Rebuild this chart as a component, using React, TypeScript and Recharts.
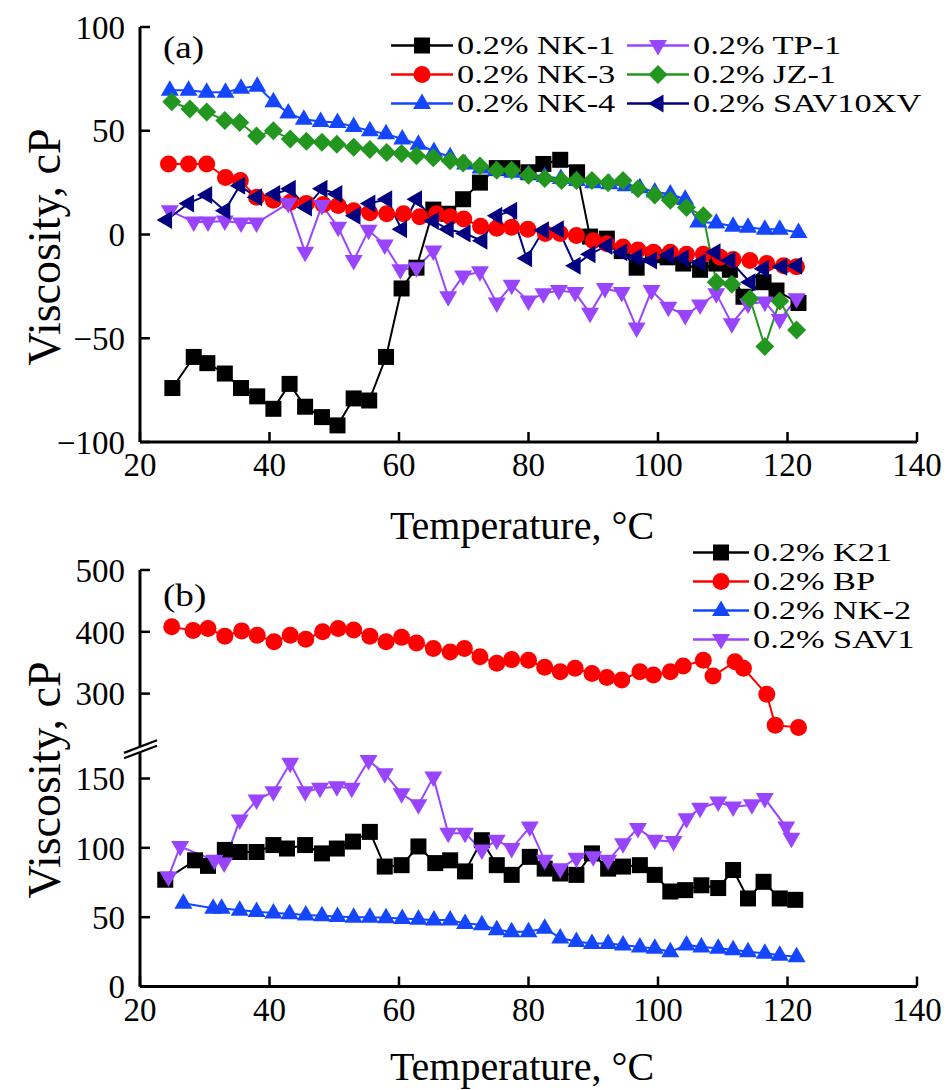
import React from "react";
import { LineChart, Line, XAxis, YAxis, Legend, Label } from "recharts";

const SERIF = '"Liberation Serif", "Times New Roman", serif';

const BLACK = "#000000";
const RED = "#ff0000";
const BLUE = "#1446ff";
const PURPLE = "#9945ff";
const GREEN = "#23961f";
const NAVY = "#000080";

const X_TICKS = [20, 40, 60, 80, 100, 120, 140];
const A_Y_TICKS = [-100, -50, 0, 50, 100];
const B_TOP_TICKS = [300, 400, 500];
const B_LOW_TICKS = [0, 50, 100, 150];

// panel (a)
const NK1_T = [25, 28.3, 30.4, 33.1, 35.6, 38.1, 40.6, 43.1, 45.5, 48.1, 50.5, 53, 55.4, 58, 60.4, 62.7, 65.3, 67.6, 69.9, 72.5, 75.1, 77.5, 80, 82.3, 84.9, 87.5, 89.5, 92.1, 94.4, 96.7, 99.2, 101.5, 103.9, 106.5, 109, 111.1, 113.2, 116.3, 118.3, 121.7];
const NK1_V = [-74, -59, -62, -67, -74, -78, -84, -72, -83, -88, -92, -79, -80, -59, -26, -16, 12, 10, 17, 25, 32, 32, 30, 34, 36, 30, -1, -2, -8, -16, -10, -11, -14, -17, -14, -17, -30, -23, -27, -33];

const NK3_T = [24.4, 27.5, 30.3, 33.2, 35.5, 38, 40.6, 43.2, 45.7, 48.3, 50.6, 53, 55.5, 58.1, 60.7, 63.2, 65.8, 67.9, 70, 72.6, 75.1, 77.4, 79.9, 82.6, 84.9, 87.4, 90, 92.1, 94.6, 96.9, 99.3, 101.9, 104.4, 107, 109.6, 111.6, 114.2, 116.8, 119.4, 121.4];
const NK3_V = [34, 34, 34, 27.5, 26, 18, 16.5, 15.5, 15, 14.5, 14, 11.5, 10.5, 10, 10, 8.5, 10, 8.5, 7.5, 4, 3, 3.5, 2.5, 0.5, 0.5, -0.5, -3, -4.5, -6, -7.5, -8.5, -8.5, -9.5, -9.5, -11, -12, -12.5, -14, -15, -15.5];

const NK4_T = [24.6, 27.5, 30.3, 33.2, 35.6, 38.1, 40.6, 42.9, 45.3, 47.9, 50.5, 53, 55.5, 58, 60.5, 63, 65.4, 67.9, 70.2, 72.6, 75, 77.5, 80, 82.5, 85, 87.5, 90, 92.5, 95, 97.2, 99.5, 101.9, 104.2, 106.2, 109, 111.6, 113.9, 116.5, 118.8, 121.7];
const NK4_V = [69.5, 69.5, 68.5, 68.5, 70.5, 71.5, 64, 58.5, 55.5, 54.5, 54, 52, 50, 48.5, 46, 43.5, 40, 37.5, 34, 32, 31, 30, 29, 28, 27, 26, 25, 24.5, 23.5, 22.5, 20.5, 19.5, 17, 6, 5.5, 4, 3.5, 2.5, 2.5, 1];

const TP1_T = [24.6, 28.3, 30.5, 33.1, 35.6, 38, 42.9, 45.5, 48.1, 50.6, 53, 55.3, 57.8, 60.2, 62.7, 65.3, 67.6, 69.9, 72.5, 75.1, 77.4, 80, 82.3, 84.7, 87.2, 89.5, 91.8, 94.4, 96.7, 99, 101.6, 104.2, 106.5, 109, 111.4, 113.9, 116.5, 118.8, 121.4];
const TP1_V = [11.5, 6, 6, 6.5, 5.5, 5.5, 15, -8.5, 14, 3.5, -12.5, 2, -5, -17, -16, -8, -30, -20, -18, -33, -24.5, -32, -28.5, -27, -28, -38, -26, -28, -45, -27, -35, -39, -34, -28.5, -43, -33.5, -32.5, -41, -31];

const JZ1_T = [24.9, 27.7, 30.3, 33.1, 35.4, 38, 40.6, 43.2, 45.7, 48.1, 50.4, 53, 55.5, 58.1, 60.4, 62.7, 65.3, 67.9, 69.9, 72.5, 75.1, 77.4, 80, 82.5, 85.1, 87.4, 89.8, 92.3, 94.6, 96.9, 99.5, 101.9, 104.4, 107, 109, 111.4, 114.2, 116.5, 118.8, 121.4];
const JZ1_V = [64, 60.5, 59, 55, 54, 47.5, 50, 46, 45, 44.5, 43.5, 42, 41, 39.5, 39, 38, 37, 35.5, 34.5, 33, 31, 31, 28.5, 27, 26, 26, 26, 25, 26, 22, 19, 16.5, 13, 9, -23, -24, -31, -54, -32, -46];

const SAV10_T = [24.1, 27.5, 30.3, 33.1, 35.4, 38, 40.8, 43.2, 45.7, 48.1, 50.4, 53.2, 55.5, 58.1, 60.4, 62.7, 65.3, 67.6, 70.2, 72.8, 75.1, 77.4, 79.7, 82.3, 84.6, 87.2, 89.5, 92.1, 94.4, 96.7, 99, 101.6, 103.9, 106.5, 108.8, 111.1, 114.2, 116.3, 119.1, 121.4];
const SAV10_V = [7, 15, 19, 11.5, 23.5, 18, 19.5, 22, 13, 22, 19.5, 9, 15, 17, 2.5, 17, 6.5, 2.5, 0.5, -3, 9, 11.5, -11.5, 2, 2.5, -15, -9.5, -5.5, -8.5, -11, -12.5, -10, -11.5, -13.5, -8.5, -12.5, -23, -16.5, -15.5, -15];

// panel (b)
const K21_T = [23.9, 28.5, 30.5, 33.1, 35.4, 38, 40.6, 42.7, 45.5, 48.1, 50.4, 52.9, 55.5, 57.8, 60.4, 63, 65.6, 67.9, 70.2, 72.8, 75.1, 77.4, 80.2, 82.5, 84.9, 87.4, 89.8, 92.3, 94.6, 97.2, 99.5, 101.9, 104.2, 106.7, 109.3, 111.6, 113.9, 116.3, 118.8, 121.2];
const K21_V = [77, 91, 87, 98.5, 97, 97, 102, 99.5, 102, 96, 99.5, 104.5, 111.5, 86.5, 87.5, 101, 89, 91, 83, 105.5, 87.5, 80.5, 93.5, 85, 81.5, 80.5, 96, 85, 86.5, 87.5, 80.5, 68.5, 69.5, 73, 71, 84, 63.5, 75.5, 63.5, 62.5];

const BP_T = [24.9, 28.2, 30.5, 33.1, 35.7, 38.1, 40.7, 43.2, 45.6, 48.2, 50.6, 53, 55.5, 58, 60.4, 62.7, 65.3, 67.9, 70.1, 72.5, 75.1, 77.4, 80, 82.5, 84.9, 87.2, 89.8, 92.1, 94.4, 97.2, 99.3, 101.9, 103.9, 107, 108.5, 111.9, 113.2, 116.8, 118.1, 121.7];
const BP_V = [408, 402, 405.5, 393, 401.5, 394.5, 384, 394.5, 388, 400, 405.5, 403, 393, 384, 391, 382, 373, 367.5, 373, 359.5, 349, 355, 354, 342.5, 335.5, 341, 332.5, 326, 322, 335.5, 330, 335.5, 344.5, 354, 328.5, 351.5, 341, 299, 249, 245];

const NK2_T = [26.7, 31.3, 32.6, 35.4, 38, 40.6, 43.1, 45.6, 48.1, 50.5, 53, 55.5, 58, 60.5, 63, 65.4, 67.9, 70.2, 72.8, 75.1, 77.4, 80, 82.5, 84.9, 87.4, 89.8, 92.3, 94.6, 97.2, 99.5, 101.9, 104.4, 106.7, 109.3, 111.6, 113.9, 116.5, 118.8, 121.4];
const NK2_V = [60, 56.5, 56.5, 55, 54, 53, 52.5, 51.5, 51, 50.5, 50, 50, 49.5, 49, 48.5, 48, 48, 45.5, 44.5, 41, 39.5, 39.5, 42, 35, 32.5, 31, 31, 30, 28.5, 27.5, 25, 30, 28.5, 27.5, 26.5, 25, 24, 22.5, 21.5];

const SAV1_T = [24.4, 26.2, 31.5, 33, 35.4, 38, 40.6, 43.2, 45.5, 47.8, 50.4, 52.7, 55.3, 57.8, 60.4, 63, 65.3, 67.6, 70.2, 72.8, 75.1, 77.4, 80.2, 82.5, 84.9, 87.4, 90, 92.3, 94.6, 96.9, 99.5, 102.4, 104.4, 106.5, 109.3, 111.6, 114.5, 116.5, 119.8, 120.6];
const SAV1_V = [79, 101, 91, 89, 120, 134.5, 140.5, 161, 140.5, 143, 144, 143, 163, 153.5, 139, 131, 151, 110.5, 110.5, 98.5, 105.5, 99.5, 115, 91, 85, 92.5, 93.5, 91, 103, 114, 105.5, 104.5, 121, 128.5, 133, 129.5, 131, 135.5, 115, 107];

type Shape = "square" | "circle" | "up" | "down" | "diamond" | "left";
type Series = { name: string; color: string; shape: Shape; data: { t: number; v: number }[] };

const zip = (t: number[], v: number[]) => t.map((x, i) => ({ t: x, v: v[i] }));

const NK1: Series = { name: "0.2% NK-1", color: BLACK, shape: "square", data: zip(NK1_T, NK1_V) };
const NK3: Series = { name: "0.2% NK-3", color: RED, shape: "circle", data: zip(NK3_T, NK3_V) };
const NK4: Series = { name: "0.2% NK-4", color: BLUE, shape: "up", data: zip(NK4_T, NK4_V) };
const TP1: Series = { name: "0.2% TP-1", color: PURPLE, shape: "down", data: zip(TP1_T, TP1_V) };
const JZ1: Series = { name: "0.2% JZ-1", color: GREEN, shape: "diamond", data: zip(JZ1_T, JZ1_V) };
const SAV10: Series = { name: "0.2% SAV10XV", color: NAVY, shape: "left", data: zip(SAV10_T, SAV10_V) };

const K21: Series = { name: "0.2% K21", color: BLACK, shape: "square", data: zip(K21_T, K21_V) };
const BP: Series = { name: "0.2% BP", color: RED, shape: "circle", data: zip(BP_T, BP_V) };
const NK2: Series = { name: "0.2% NK-2", color: BLUE, shape: "up", data: zip(NK2_T, NK2_V) };
const SAV1: Series = { name: "0.2% SAV1", color: PURPLE, shape: "down", data: zip(SAV1_T, SAV1_V) };

const SERIES_A = [NK1, NK3, NK4, TP1, JZ1, SAV10];
const SERIES_B_LOW = [K21, NK2, SAV1];
const LEGEND_B = [K21, BP, NK2, SAV1];

function Marker({ shape, cx, cy, color }: { shape: Shape; cx?: number; cy?: number; color: string }) {
  if (cx == null || cy == null || isNaN(cx) || isNaN(cy)) return null;
  switch (shape) {
    case "square":
      return <rect x={cx - 8} y={cy - 8} width={16} height={16} fill={color} />;
    case "circle":
      return <circle cx={cx} cy={cy} r={8.5} fill={color} />;
    case "diamond":
      return <polygon points={`${cx},${cy - 9.5} ${cx + 9.5},${cy} ${cx},${cy + 9.5} ${cx - 9.5},${cy}`} fill={color} />;
    case "up":
      return <polygon points={`${cx},${cy - 10} ${cx + 9},${cy + 5.5} ${cx - 9},${cy + 5.5}`} fill={color} />;
    case "down":
      return <polygon points={`${cx},${cy + 10} ${cx + 9},${cy - 5.5} ${cx - 9},${cy - 5.5}`} fill={color} />;
    case "left":
      return <polygon points={`${cx - 10},${cy} ${cx + 5.5},${cy - 9} ${cx + 5.5},${cy + 9}`} fill={color} />;
  }
  return null;
}

const dotFor = (s: Series) => (p: any) => (
  <Marker key={`${s.name}-${p.index}`} shape={s.shape} cx={p.cx} cy={p.cy} color={s.color} />
);

// the reference's lettering is wider than plain Times
const STRETCH = "scaleX(1.16)";
const LEGEND_STRETCH = "scaleX(1.32)";
const ROW = 29;

function LegendItem({ s, lineLen }: { s: Series; lineLen: number }) {
  return (
    <div style={{ display: "flex", alignItems: "center", height: ROW }}>
      <svg width={lineLen} height={ROW} style={{ flex: "none" }}>
        <line x1={0} x2={lineLen} y1={ROW / 2} y2={ROW / 2} stroke={s.color} strokeWidth={2.5} />
        <Marker shape={s.shape} cx={lineLen / 2} cy={ROW / 2} color={s.color} />
      </svg>
      <span style={{
        display: "block", height: ROW, marginLeft: 4, fontSize: 26, fontFamily: SERIF, color: "#000",
        whiteSpace: "nowrap", lineHeight: `${ROW}px`, transform: LEGEND_STRETCH, transformOrigin: "0 50%",
      }}>
        {s.name}
      </span>
    </div>
  );
}

const legendA = () => (
  <div style={{ display: "grid", gridTemplateColumns: "236px auto", gridTemplateRows: `repeat(3, ${ROW}px)`, gridAutoFlow: "column" }}>
    {SERIES_A.map((s) => (
      <LegendItem key={s.name} s={s} lineLen={62} />
    ))}
  </div>
);

const legendB = () => (
  <div>
    {LEGEND_B.map((s) => (
      <LegendItem key={s.name} s={s} lineLen={56} />
    ))}
  </div>
);

const yTitle = (cy: number) => () => (
  <text x={44} y={cy} transform={`rotate(-90 44 ${cy})`} textAnchor="middle" dominantBaseline="central" fontSize={46} fontFamily={SERIF} fill="#000">
    Viscosity, cP
  </text>
);

const xTitle = (baseline: number) => () => (
  <text x={522} y={baseline} textAnchor="middle" fontSize={40} fontFamily={SERIF} fill="#000">
    Temperature, °C
  </text>
);

const fmt = (v: number) => (v < 0 ? `\u2212${Math.abs(v)}` : `${v}`);

const tickStyle = { fill: "#000", fontSize: 33, fontFamily: SERIF };
const axisLine = { stroke: "#000", strokeWidth: 3 };
const tickLine = { stroke: "#000", strokeWidth: 2.5 };

export default function App() {
  return (
    <div style={{ position: "absolute", left: 0, top: 0, width: 949, height: 1090, background: "#fff", overflow: "hidden" }}>
      {/* panel (a) */}
      <div style={{ position: "absolute", left: 0, top: 0 }}>
        <LineChart width={949} height={560} margin={{ top: 27, right: 32, left: 40, bottom: 18 }}>
          <XAxis type="number" dataKey="t" domain={[20, 140]} ticks={X_TICKS} interval={0} height={100}
            tick={tickStyle} tickSize={-10} tickMargin={21} axisLine={axisLine} tickLine={tickLine}>
            <Label content={xTitle(539)} />
          </XAxis>
          <YAxis type="number" domain={[-100, 100]} ticks={A_Y_TICKS} interval={0} width={100} tickFormatter={fmt}
            tick={tickStyle} tickSize={-10} tickMargin={25} axisLine={axisLine} tickLine={tickLine}>
            <Label content={yTitle(247)} />
          </YAxis>
          <Legend layout="horizontal" verticalAlign="middle" align="center" content={legendA}
            wrapperStyle={{ left: 391, top: 30.5, width: 555 }} />
          {SERIES_A.map((s) => (
            <Line key={s.name} data={s.data} dataKey="v" name={s.name} type="linear" stroke={s.color} strokeWidth={2}
              dot={dotFor(s)} activeDot={false} isAnimationActive={false} />
          ))}
        </LineChart>
      </div>

      {/* panel (b), lower part of broken axis */}
      <div style={{ position: "absolute", left: 0, top: 530 }}>
        <LineChart width={949} height={560} margin={{ top: 218, right: 32, left: 40, bottom: 3.5 }}>
          <XAxis type="number" dataKey="t" domain={[20, 140]} ticks={X_TICKS} interval={0} height={100}
            tick={tickStyle} tickSize={-10} tickMargin={21} axisLine={axisLine} tickLine={tickLine}>
            <Label content={xTitle(550)} />
          </XAxis>
          <YAxis type="number" domain={[0, 172]} ticks={B_LOW_TICKS} interval={0} width={100}
            tick={tickStyle} tickSize={-10} tickMargin={25} axisLine={axisLine} tickLine={tickLine}>
            <Label content={yTitle(250)} />
          </YAxis>
          {SERIES_B_LOW.map((s) => (
            <Line key={s.name} data={s.data} dataKey="v" name={s.name} type="linear" stroke={s.color} strokeWidth={2}
              dot={dotFor(s)} activeDot={false} isAnimationActive={false} />
          ))}
        </LineChart>
      </div>

      {/* panel (b), upper part of broken axis */}
      <div style={{ position: "absolute", left: 0, top: 530 }}>
        <LineChart width={949} height={220} margin={{ top: 40, right: 32, left: 40, bottom: 2 }}>
          <XAxis hide type="number" dataKey="t" domain={[20, 140]} />
          <YAxis type="number" domain={[212, 500]} ticks={B_TOP_TICKS} interval={0} width={100}
            tick={tickStyle} tickSize={-10} tickMargin={25} axisLine={axisLine} tickLine={tickLine} />
          <Legend layout="horizontal" verticalAlign="middle" align="center" content={legendB}
            wrapperStyle={{ left: 693, top: 7.5, width: 250 }} />
          <Line data={BP.data} dataKey="v" name={BP.name} type="linear" stroke={BP.color} strokeWidth={2}
            dot={dotFor(BP)} activeDot={false} isAnimationActive={false} />
        </LineChart>
      </div>

      {/* axis break marks */}
      <svg width={949} height={1090} style={{ position: "absolute", left: 0, top: 0, pointerEvents: "none" }}>
        <polygon points="124,752.9 157,740.3 157,745.7 124,758.3" fill="#fff" />
        <line x1={124} y1={752.9} x2={157} y2={740.3} stroke="#000" strokeWidth={2.2} />
        <line x1={124} y1={758.3} x2={157} y2={745.7} stroke="#000" strokeWidth={2.2} />
      </svg>

      <div style={{ position: "absolute", left: 163, top: 31, fontSize: 32, fontFamily: SERIF, lineHeight: "32px", transform: STRETCH, transformOrigin: "0 50%" }}>(a)</div>
      <div style={{ position: "absolute", left: 163, top: 579, fontSize: 32, fontFamily: SERIF, lineHeight: "32px", transform: STRETCH, transformOrigin: "0 50%" }}>(b)</div>
    </div>
  );
}
